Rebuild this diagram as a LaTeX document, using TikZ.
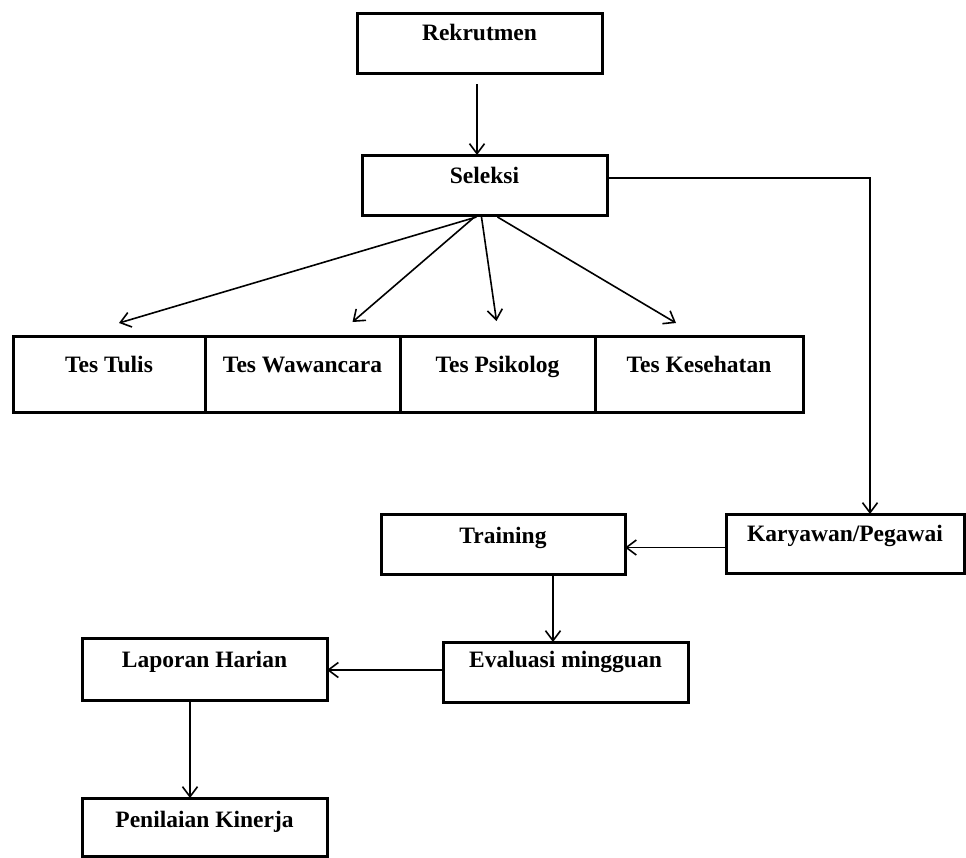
\documentclass[tikz,border=0pt]{standalone}
\usepackage{fontspec}
\setmainfont{Liberation Serif}
\usetikzlibrary{arrows.meta}
\begin{document}
\begin{tikzpicture}[x=1pt,y=-1pt,
  box/.style={draw, line width=3pt, rectangle, inner sep=0pt, outer sep=0pt, anchor=north west},
  txt/.style={anchor=base, inner sep=0pt, font=\fontsize{23.5}{27}\selectfont\bfseries},
  arr/.style={line width=1.6pt, -{Straight Barb[length=10pt,width=15pt,line width=1.6pt]}}]
\useasboundingbox[fill=white] (0,0) rectangle (966,857);
% boxes
\node[box, minimum width=245pt, minimum height=60pt] (rek) at (357,13) {};
\node[box, minimum width=245pt, minimum height=60pt] (sel) at (362,155) {};
\node[box, minimum width=192pt, minimum height=76pt] (tt) at (13,336) {};
\node[box, minimum width=195pt, minimum height=76pt] (tw) at (205,336) {};
\node[box, minimum width=195pt, minimum height=76pt] (tp) at (400,336) {};
\node[box, minimum width=208pt, minimum height=76pt] (tk) at (595,336) {};
\node[box, minimum width=238pt, minimum height=59pt] (kar) at (726,514) {};
\node[box, minimum width=244pt, minimum height=60pt] (tr) at (381,514) {};
\node[box, minimum width=245pt, minimum height=60pt] (ev) at (443,642) {};
\node[box, minimum width=245pt, minimum height=62pt] (lap) at (82,638) {};
\node[box, minimum width=245pt, minimum height=58pt] (pen) at (82,798) {};
% texts
\node[txt] (rekT) at ([yshift=-27pt]rek.north) {Rekrutmen};
\node[txt] (selT) at ([yshift=-28pt]sel.north) {Seleksi};
\node[txt] (ttT) at ([yshift=-36pt]tt.north) {Tes Tulis};
\node[txt] (twT) at ([yshift=-36pt]tw.north) {Tes Wawancara};
\node[txt] (tpT) at ([yshift=-36pt]tp.north) {Tes Psikolog};
\node[txt] (tkT) at ([yshift=-36pt]tk.north) {Tes Kesehatan};
\node[txt] (karT) at ([yshift=-27pt]kar.north) {Karyawan/Pegawai};
\node[txt] (trT) at ([yshift=-29pt]tr.north) {Training};
\node[txt] (evT) at ([yshift=-25pt]ev.north) {Evaluasi mingguan};
\node[txt] (lapT) at ([yshift=-29pt]lap.north) {Laporan Harian};
\node[txt] (penT) at ([yshift=-29pt]pen.north) {Penilaian Kinerja};
% connectors
\coordinate (c1) at ([xshift=-2.5pt]rek.south);
\draw[arr] ([yshift=-11pt]c1) -- (c1 |- sel.north);
\draw[arr] ([xshift=-8pt,yshift=-2pt]sel.south) -- ([xshift=10pt,yshift=13pt]tt.north);
\draw[arr] ([xshift=-10pt,yshift=-2pt]sel.south) -- ([xshift=50pt,yshift=14pt]tw.north);
\draw[arr] ([xshift=-3pt,yshift=-2pt]sel.south) -- ([xshift=-1pt,yshift=15pt]tp.north);
\draw[arr] ([xshift=13pt,yshift=-2pt]sel.south) -- ([xshift=-23pt,yshift=13pt]tk.north);
\draw[arr] ([yshift=7pt]sel.east) -| ([xshift=25pt]kar.north);
\draw[arr] ([yshift=-4pt]kar.west) -- ([yshift=-4pt]kar.west -| tr.east);
\coordinate (c2) at ([xshift=50pt]tr.south);
\draw[arr] (c2) -- (c2 |- ev.north);
\draw[arr] ([yshift=2pt]ev.west) -- ([yshift=2pt]ev.west -| lap.east);
\coordinate (c3) at ([xshift=-14.5pt]lap.south);
\draw[arr] (c3) -- (c3 |- pen.north);
\end{tikzpicture}
\end{document}
